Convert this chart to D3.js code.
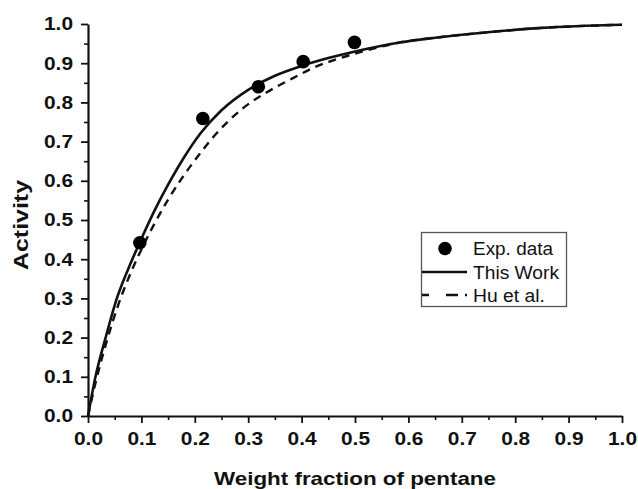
<!DOCTYPE html>
<html>
<head>
<meta charset="utf-8">
<script src="https://cdn.jsdelivr.net/npm/d3@7"></script>
<style>
  html, body { margin: 0; padding: 0; background: #fff; }
  svg { display: block; }
</style>
</head>
<body>
<div id="chart"></div>
<script>
// Experimental points
var expX = [0.097, 0.215, 0.319, 0.403, 0.499];
var expY = [0.442, 0.759, 0.840, 0.904, 0.953];

// "This Work" model curve
var workX = [0, 0.014, 0.033, 0.054, 0.08, 0.1, 0.125, 0.15, 0.18, 0.21, 0.25, 0.3, 0.35, 0.4, 0.45, 0.5, 0.584, 0.65, 0.734, 0.85, 1.0];
var workY = [0, 0.1, 0.2, 0.3, 0.39, 0.452, 0.525, 0.59, 0.66, 0.72, 0.78, 0.832, 0.868, 0.893, 0.913, 0.93, 0.953, 0.965, 0.977, 0.99, 0.998];

// "Hu et al." curve
var huX = [0, 0.015, 0.035, 0.057, 0.08, 0.1, 0.125, 0.15, 0.175, 0.21, 0.24, 0.29, 0.335, 0.384, 0.425, 0.47, 0.52, 0.584, 0.65, 0.734, 0.85, 1.0];
var huY = [0, 0.09, 0.19, 0.285, 0.365, 0.425, 0.492, 0.552, 0.605, 0.67, 0.72, 0.785, 0.826, 0.862, 0.89, 0.912, 0.932, 0.953, 0.965, 0.977, 0.99, 0.998];

var tickVals = [0, 0.1, 0.2, 0.3, 0.4, 0.5, 0.6, 0.7, 0.8, 0.9, 1.0];
var minorVals = [0.05, 0.15, 0.25, 0.35, 0.45, 0.55, 0.65, 0.75, 0.85, 0.95];
var legendItems = ['Exp. data', 'This Work', 'Hu et al.'];

var width = 638, height = 489;
var font = "'Liberation Sans', Arial, sans-serif";

var svg = d3.select('#chart').append('svg')
  .attr('width', width)
  .attr('height', height);

var x = d3.scaleLinear().domain([0, 1]).range([88, 622]);
var y = d3.scaleLinear().domain([0, 1]).range([416, 24]);

// Minor ticks
svg.append('g')
  .attr('transform', 'translate(0,' + y(0) + ')')
  .call(d3.axisBottom(x).tickValues(minorVals).tickSize(4).tickFormat(''))
  .call(function(g) { g.select('.domain').remove(); })
  .selectAll('line').attr('stroke', '#111').attr('stroke-width', 1.6);

svg.append('g')
  .attr('transform', 'translate(' + x(0) + ',0)')
  .call(d3.axisLeft(y).tickValues(minorVals).tickSize(4).tickFormat(''))
  .call(function(g) { g.select('.domain').remove(); })
  .selectAll('line').attr('stroke', '#111').attr('stroke-width', 1.6);

// Major axes
var xAxis = svg.append('g')
  .attr('transform', 'translate(0,' + y(0) + ')')
  .call(d3.axisBottom(x).tickValues(tickVals).tickSize(7).tickSizeOuter(0).tickPadding(9).tickFormat(d3.format('.1f')));

var yAxis = svg.append('g')
  .attr('transform', 'translate(' + x(0) + ',0)')
  .call(d3.axisLeft(y).tickValues(tickVals).tickSize(7).tickSizeOuter(0).tickPadding(8).tickFormat(d3.format('.1f')));

[xAxis, yAxis].forEach(function(ax) {
  ax.select('.domain').attr('stroke', '#111').attr('stroke-width', 2.2);
  ax.selectAll('.tick line').attr('stroke', '#111').attr('stroke-width', 1.8);
  ax.selectAll('.tick text')
    .attr('fill', '#111')
    .attr('font-family', font)
    .attr('font-weight', 'bold')
    .attr('font-size', 18.5)
    .attr('textLength', 29)
    .attr('lengthAdjust', 'spacingAndGlyphs');
});

// Axis titles
svg.append('text')
  .attr('x', x(0.5))
  .attr('y', 485)
  .attr('text-anchor', 'middle')
  .attr('font-family', font)
  .attr('font-weight', 'bold')
  .attr('font-size', 19)
  .attr('fill', '#111')
  .attr('textLength', 282)
  .attr('lengthAdjust', 'spacingAndGlyphs')
  .text('Weight fraction of pentane');

svg.append('text')
  .attr('transform', 'translate(28,' + 225 + ') rotate(-90)')
  .attr('text-anchor', 'middle')
  .attr('font-family', font)
  .attr('font-weight', 'bold')
  .attr('font-size', 20)
  .attr('fill', '#111')
  .attr('textLength', 90)
  .attr('lengthAdjust', 'spacingAndGlyphs')
  .text('Activity');

// Curves
var line = d3.line()
  .x(function(d) { return x(d[0]); })
  .y(function(d) { return y(d[1]); })
  .curve(d3.curveMonotoneX);

svg.append('path')
  .datum(d3.zip(huX, huY))
  .attr('d', line)
  .attr('fill', 'none')
  .attr('stroke', '#111')
  .attr('stroke-width', 2.4)
  .attr('stroke-dasharray', '8,6');

svg.append('path')
  .datum(d3.zip(workX, workY))
  .attr('d', line)
  .attr('fill', 'none')
  .attr('stroke', '#111')
  .attr('stroke-width', 2.6);

// Experimental points
svg.append('g')
  .selectAll('circle')
  .data(d3.zip(expX, expY))
  .enter().append('circle')
  .attr('cx', function(d) { return x(d[0]); })
  .attr('cy', function(d) { return y(d[1]); })
  .attr('r', 6.8)
  .attr('fill', '#000');

// Legend
var legend = svg.append('g');
legend.append('rect')
  .attr('x', 421.5).attr('y', 232.5)
  .attr('width', 145).attr('height', 74)
  .attr('fill', '#fff')
  .attr('stroke', '#555')
  .attr('stroke-width', 1.3);

var rowY = [248.5, 272, 295];
legendItems.forEach(function(label, i) {
  if (i === 0) {
    legend.append('circle').attr('cx', 445).attr('cy', rowY[i]).attr('r', 6.8).attr('fill', '#000');
  } else {
    legend.append('line')
      .attr('x1', 422).attr('x2', 467)
      .attr('y1', rowY[i]).attr('y2', rowY[i])
      .attr('stroke', '#111')
      .attr('stroke-width', 2.4)
      .attr('stroke-dasharray', i === 2 ? '7,17,12' : null);
  }
  legend.append('text')
    .attr('x', 473)
    .attr('y', rowY[i] + 6.5)
    .attr('font-family', font)
    .attr('font-size', 17.5)
    .attr('fill', '#111')
    .attr('textLength', label === 'Exp. data' ? 80 : (label === 'This Work' ? 86 : 72))
    .attr('lengthAdjust', 'spacingAndGlyphs')
    .text(label);
});
</script>
</body>
</html>
